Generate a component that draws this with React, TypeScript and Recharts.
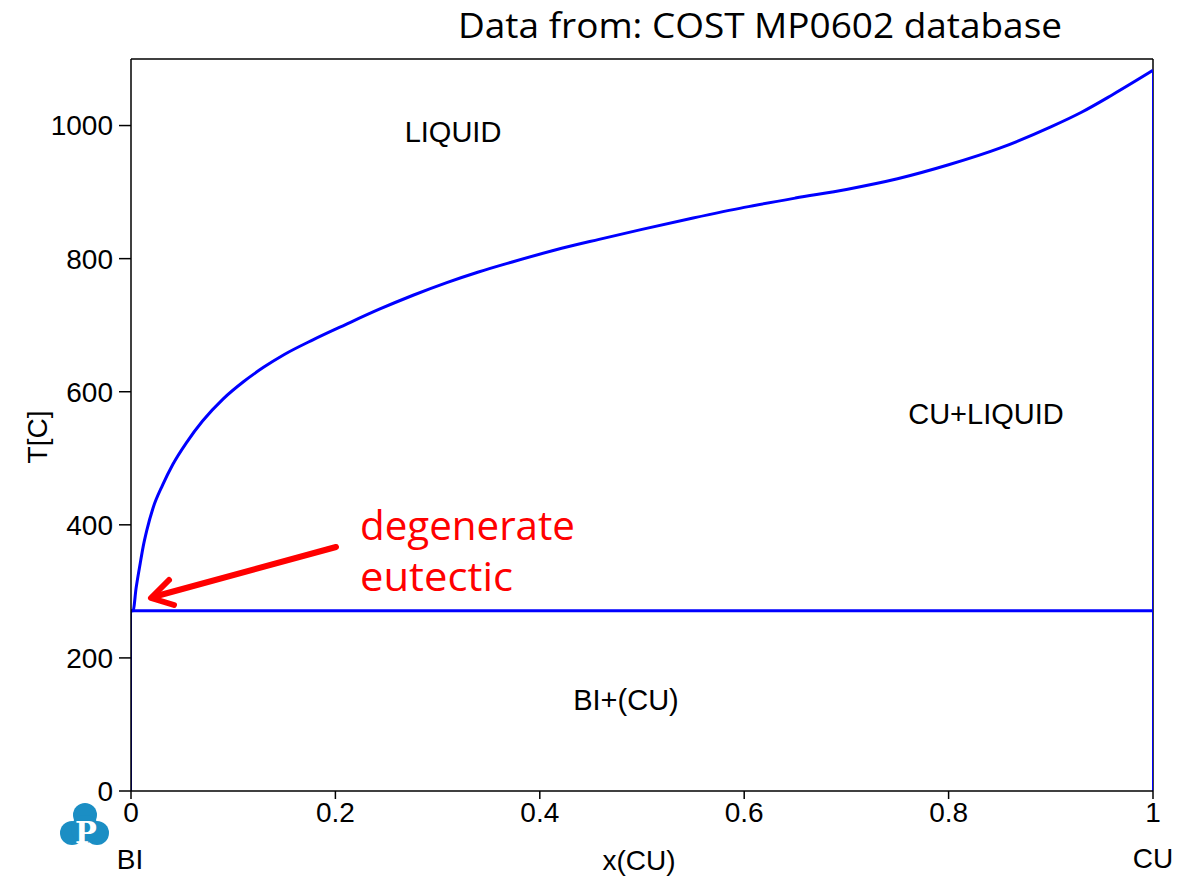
import { LineChart, Line, XAxis, YAxis, ReferenceLine } from "recharts";

// liquidus: x(CU) and T[C]
const liquidusX = [0, 0.002, 0.005, 0.009, 0.012, 0.0155, 0.0215, 0.031, 0.041, 0.0545, 0.07, 0.09, 0.11, 0.13, 0.15, 0.178, 0.21, 0.243, 0.276, 0.309, 0.34, 0.373, 0.415, 0.458, 0.5, 0.55, 0.6, 0.65, 0.7, 0.75, 0.8, 0.85, 0.9, 0.93, 0.96, 1.0];
const liquidusT = [271, 271, 305, 342, 368, 392, 425, 460, 491, 524, 556, 589, 615, 637, 656, 678, 701, 724, 745, 764, 780, 795, 813, 829, 844, 861, 877, 891, 904, 920, 941, 966, 998, 1020, 1046, 1083];

const eutecticT = 271;
const cuMeltT = 1083;

const xTicks = [0, 0.2, 0.4, 0.6, 0.8, 1];
const yTicks = [0, 200, 400, 600, 800, 1000];

const liquidus = liquidusX.map((x, i) => ({ x, T: liquidusT[i] }));
const eutectic = [{ x: 0, T: eutecticT }, { x: 1, T: eutecticT }];
const biSide = [{ x: 0, T: 0 }, { x: 0, T: eutecticT }];
const cuSide = [{ x: 1, T: 0 }, { x: 1, T: cuMeltT }];

const BLUE = "#0000ff";
const sans = "'Liberation Sans', Arial, sans-serif";

export default function App() {
  return (
    <div style={{ position: "absolute", left: 0, top: 0, width: 1201, height: 880, background: "#fff" }}>
      <LineChart width={1201} height={880} margin={{ top: 59, right: 48, bottom: 49, left: 51 }}>
        <XAxis
          type="number"
          dataKey="x"
          domain={[0, 1]}
          ticks={xTicks}
          height={40}
          tickSize={8}
          tickMargin={3}
          allowDataOverflow
          axisLine={{ stroke: "#000", strokeWidth: 1.5 }}
          tickLine={{ stroke: "#000", strokeWidth: 1.5 }}
          tick={{ fill: "#000", fontSize: 28, fontFamily: sans }}
        />
        <YAxis
          type="number"
          dataKey="T"
          domain={[0, 1100]}
          ticks={yTicks}
          width={80}
          tickSize={12}
          tickMargin={6}
          allowDataOverflow
          axisLine={{ stroke: "#000", strokeWidth: 1.5 }}
          tickLine={{ stroke: "#000", strokeWidth: 1.5 }}
          tick={{ fill: "#000", fontSize: 28, fontFamily: sans }}
        />
        <ReferenceLine y={1100} stroke="#000" strokeWidth={1.5} />
        <ReferenceLine x={1} stroke="#000" strokeWidth={1.5} />
        <Line data={eutectic} dataKey="T" type="linear" stroke={BLUE} strokeWidth={3} dot={false} isAnimationActive={false} />
        <Line data={biSide} dataKey="T" type="linear" stroke={BLUE} strokeWidth={2} dot={false} isAnimationActive={false} />
        <Line data={cuSide} dataKey="T" type="linear" stroke={BLUE} strokeWidth={2} dot={false} isAnimationActive={false} />
        <Line data={liquidus} dataKey="T" type="monotone" stroke={BLUE} strokeWidth={3} dot={false} isAnimationActive={false} />
      </LineChart>

      <svg width={1201} height={880} style={{ position: "absolute", left: 0, top: 0, pointerEvents: "none" }}>
        <text x={458} y={38} fontSize={35} fontFamily="'Open Sans', sans-serif" textLength={604} lengthAdjust="spacingAndGlyphs" fill="#000">
          Data from: COST MP0602 database
        </text>

        <text x={453} y={142} textAnchor="middle" fontSize={29} fontFamily={sans}>LIQUID</text>
        <text x={986} y={424} textAnchor="middle" fontSize={29} fontFamily={sans}>CU+LIQUID</text>
        <text x={626} y={710} textAnchor="middle" fontSize={29} fontFamily={sans}>BI+(CU)</text>

        <text x={130} y={869} textAnchor="middle" fontSize={28} fontFamily={sans}>BI</text>
        <text x={639} y={870} textAnchor="middle" fontSize={28} fontFamily={sans}>x(CU)</text>
        <text x={1153} y={868} textAnchor="middle" fontSize={28} fontFamily={sans}>CU</text>
        <text x={47} y={437} textAnchor="middle" fontSize={28} fontFamily={sans} transform="rotate(-90 47 437)">T[C]</text>

        <text x={360} y={540} fontSize={41} fill="#ff0000" fontFamily="'Open Sans', sans-serif" textLength={215} lengthAdjust="spacingAndGlyphs">degenerate</text>
        <text x={360} y={591} fontSize={41} fill="#ff0000" fontFamily="'Open Sans', sans-serif" textLength={153} lengthAdjust="spacingAndGlyphs">eutectic</text>

        <line x1={336} y1={547} x2={153} y2={597} stroke="#ff0000" strokeWidth={6} strokeLinecap="round" />
        <polyline points="169,580 151,598 174,605" fill="none" stroke="#ff0000" strokeWidth={6} strokeLinecap="round" strokeLinejoin="round" />

        <g fill="#1b8ec4">
          <circle cx={85} cy={815} r={12} />
          <circle cx={72} cy={833} r={12} />
          <circle cx={97} cy={833} r={12} />
          <circle cx={85} cy={829} r={14} />
        </g>
        <text x={86} y={843} textAnchor="middle" fontSize={29} fontWeight="bold" fontFamily="'DejaVu Serif', serif" fill="#fff">P</text>
      </svg>
    </div>
  );
}
